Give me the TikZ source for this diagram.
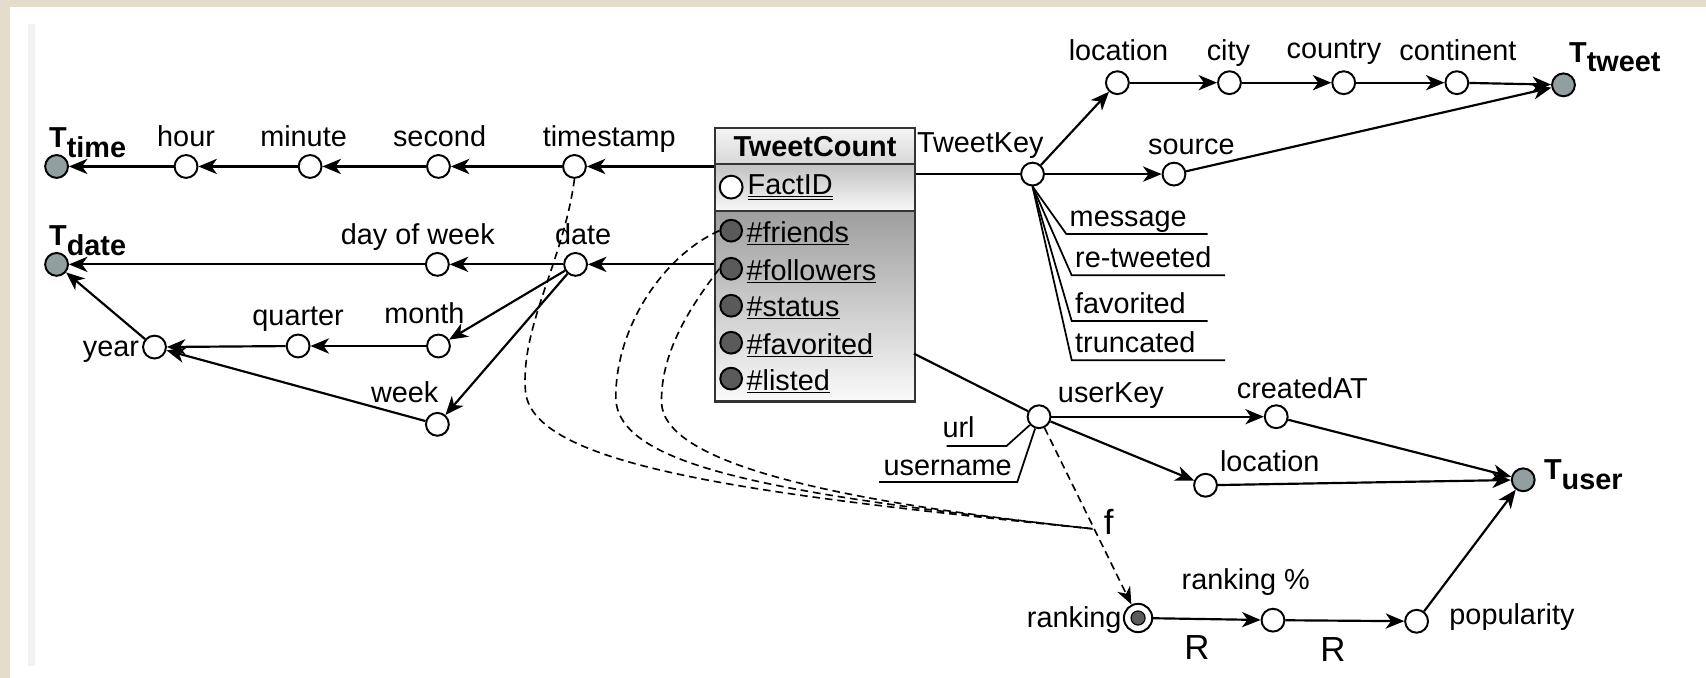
\documentclass[tikz,border=0pt]{standalone}
\usepackage{fontspec}
\setmainfont{Liberation Sans}
\usetikzlibrary{arrows.meta}
\newcommand\lblfont{\fontsize{26.5}{30}\selectfont}
\newcommand\bigfont{\fontsize{32}{36}\selectfont}
\newcommand\tsub[2]{\textbf{#1}\raisebox{-9pt}{\textbf{#2}}}
\definecolor{dimgreyfill}{HTML}{919FA1}
\definecolor{measfill}{HTML}{5A5A5A}
\definecolor{pagebeige}{HTML}{E4DDCB}
\tikzset{
  attr/.style={circle,draw,fill=white,line width=1.8pt,minimum size=21pt,inner sep=0pt},
  dimnode/.style={attr,fill=dimgreyfill},
  measdot/.style={attr,fill=measfill,minimum size=20pt},
  lbl/.style={font=\lblfont,inner sep=0pt},
  conn/.style={line width=2pt},
  arr/.style={conn,-{Stealth[length=17pt,width=14pt,inset=5pt]}},
  dsh/.style={line width=1.5pt,dash pattern=on 7pt off 4.5pt},
  boxrow/.style={draw=black!80,line width=2pt,anchor=north west,minimum width=184pt,inner sep=0pt}
}
\begin{document}
\begin{tikzpicture}[x=1pt,y=-1pt]
\useasboundingbox (0,0) rectangle (1568,623);
% page background
\fill[pagebeige] (0,0) rectangle (1568,623);
\fill[white] (9,6) rectangle (1568,623);
\fill[black!5] (26,22) rectangle (32,612);

% ---------- fact table ----------
\node[boxrow,minimum height=33pt,top color=black!4,bottom color=black!16] (title) at (656,117) {};
\node[lbl,font=\lblfont\bfseries] (titletxt) at (title.center) {TweetCount};
\node[boxrow,minimum height=43pt,top color=black!24,bottom color=black!3] (fid) at (656,150) {};
\node[boxrow,minimum height=175pt,top color=black!38,bottom color=black!2] (meas) at (656,193) {};

\node[attr] (factid) at (672,172) {};
\node[lbl,anchor=west] (factidtxt) at (687,172) {\underline{\underline{FactID}}};
\node[measdot] (fr) at (672,212) {};
\node[lbl,anchor=west] (frtxt) at (686,214) {\underline{\#friends}};
\node[measdot] (fo) at (672,247) {};
\node[lbl,anchor=west] (fotxt) at (686,249) {\underline{\#followers}};
\node[measdot] (st) at (672,281) {};
\node[lbl,anchor=west] (sttxt) at (686,283) {\underline{\#status}};
\node[measdot] (fv) at (672,315) {};
\node[lbl,anchor=west] (fvtxt) at (686,317) {\underline{\#favorited}};
\node[measdot] (ls) at (672,348) {};
\node[lbl,anchor=west] (lstxt) at (686,350) {\underline{\#listed}};

% ---------- time hierarchy ----------
\node[dimnode] (ttime) at (52,153) {};
\node[lbl,anchor=base west] (ttimetxt) at (45,136) {\tsub{T}{time}};
\node[attr] (hour) at (171,153) {};
\node[lbl,anchor=base] (hourtxt) at (171,135) {hour};
\node[attr] (minute) at (285,153) {};
\node[lbl,anchor=base] (minutetxt) at (279,135) {minute};
\node[attr] (second) at (403,153) {};
\node[lbl,anchor=base] (secondtxt) at (404,135) {second};
\node[attr] (ts) at (528,153) {};
\node[lbl,anchor=base] (tstxt) at (560,135) {timestamp};

% ---------- date hierarchy ----------
\node[dimnode] (tdate) at (52,243) {};
\node[lbl,anchor=base west] (tdatetxt) at (45,226) {\tsub{T}{date}};
\node[attr] (dow) at (402,243) {};
\node[lbl,anchor=base] (dowtxt) at (384,225) {day of week};
\node[attr] (date) at (529,243) {};
\node[lbl,anchor=base] (datetxt) at (536,225) {date};
\node[attr] (year) at (142,319) {};
\node[lbl,anchor=base east] (yeartxt) at (128,328) {year};
\node[attr] (quarter) at (274,318) {};
\node[lbl,anchor=base] (quartertxt) at (274,299) {quarter};
\node[attr] (month) at (403,318) {};
\node[lbl,anchor=base] (monthtxt) at (390,297) {month};
\node[attr] (week) at (402,390) {};
\node[lbl,anchor=base] (weektxt) at (372,370) {week};

% ---------- tweet hierarchy ----------
\node[attr] (tk) at (949,160) {};
\node[lbl,anchor=base] (tktxt) at (901,140) {TweetKey};
\node[attr] (loc) at (1027,76) {};
\node[lbl,anchor=base] (loctxt) at (1028,56) {location};
\node[attr] (city) at (1130,76) {};
\node[lbl,anchor=base] (citytxt) at (1129,56) {city};
\node[attr] (country) at (1235,76) {};
\node[lbl,anchor=base] (countrytxt) at (1226,54) {country};
\node[attr] (cont) at (1339,76) {};
\node[lbl,anchor=base] (conttxt) at (1340,56) {continent};
\node[dimnode] (ttweet) at (1437,78) {};
\node[lbl,anchor=base west] (ttweettxt) at (1442,57) {\tsub{T}{tweet}};
\node[attr] (src) at (1079,160) {};
\node[lbl,anchor=base] (srctxt) at (1095,142) {source};

% degenerate attributes of TweetKey
\coordinate (msgL) at (980,215);  \coordinate (msgR) at (1110,215);
\coordinate (rtwL) at (985,253);  \coordinate (rtwR) at (1126,253);
\coordinate (favL) at (985,295);  \coordinate (favR) at (1110,295);
\coordinate (trcL) at (985,331);  \coordinate (trcR) at (1126,331);
\node[lbl,anchor=base west] (msgtxt) at (983,208) {message};
\node[lbl,anchor=base west] (rtwtxt) at (988,246) {re-tweeted};
\node[lbl,anchor=base west] (favtxt) at (988,288) {favorited};
\node[lbl,anchor=base west] (trctxt) at (988,324) {truncated};

% ---------- user hierarchy ----------
\node[attr] (uk) at (955,383) {};
\node[lbl,anchor=base] (uktxt) at (1021,370) {userKey};
\node[attr] (cat) at (1173,383) {};
\node[lbl,anchor=base] (cattxt) at (1197,366) {createdAT};
\node[attr] (uloc) at (1108,446) {};
\node[lbl,anchor=base] (uloctxt) at (1167,433) {location};
\node[dimnode] (tuser) at (1400,441) {};
\node[lbl,anchor=base west] (tusertxt) at (1419,441) {\tsub{T}{user}};
\coordinate (urlL) at (870,410);  \coordinate (urlR) at (925,410);
\coordinate (unL) at (808,443);   \coordinate (unR) at (935,443);
\node[lbl,anchor=base] (urltxt) at (881,402) {url};
\node[lbl,anchor=base] (untxt) at (871,437) {username};

% ranking and popularity
\node[attr,minimum size=26pt] (rk) at (1046,568) {};
\node[circle,fill=measfill,draw,line width=1pt,minimum size=13pt,inner sep=0pt] (rkin) at (rk.center) {};
\node[lbl,anchor=base east] (rktxt) at (1031,577) {ranking};
\node[attr] (rkp) at (1170,570) {};
\node[lbl,anchor=base] (rkptxt) at (1145,542) {ranking \%};
\node[attr] (pop) at (1302,571) {};
\node[lbl,anchor=base west] (poptxt) at (1332,574) {popularity};
\node[lbl,font=\bigfont,anchor=base] (r1) at (1100,606) {R};
\node[lbl,font=\bigfont,anchor=base] (r2) at (1225,608) {R};
\coordinate (fpt) at (1004,486);
\node[lbl,font=\bigfont,anchor=base] (ftxt) at (1019,491) {f};

% ---------- connectors ----------
\draw[arr] (fid.west |- ts) -- (ts);
\draw[arr] (ts) -- (second);
\draw[arr] (second) -- (minute);
\draw[arr] (minute) -- (hour);
\draw[arr] (hour) -- (ttime);

\draw[arr] (meas.west |- date) -- (date);
\draw[arr] (date) -- (dow);
\draw[arr] (dow) -- (tdate);
\draw[arr] (date) -- (month);
\draw[arr] (date) -- (week);
\draw[arr] (month) -- (quarter);
\draw[arr] (quarter) -- (year);
\draw[arr] (week) -- (year);
\draw[arr] (year) -- (tdate);

\draw[conn] (fid.east |- tk) -- (tk);
\draw[arr] (tk) -- (loc);
\draw[arr] (loc) -- (city);
\draw[arr] (city) -- (country);
\draw[arr] (country) -- (cont);
\draw[arr] (cont) -- (ttweet);
\draw[arr] (tk) -- (src);
\draw[arr] (src) -- (ttweet);
\draw[conn,line width=1.6pt] (tk.south) -- (msgL) -- (msgR);
\draw[conn,line width=1.6pt] (tk.south) -- (rtwL) -- (rtwR);
\draw[conn,line width=1.6pt] (tk.south) -- (favL) -- (favR);
\draw[conn,line width=1.6pt] (tk.south) -- (trcL) -- (trcR);

\coordinate (bxu) at (840,325);
\draw[conn] (bxu) -- (uk);
\draw[arr] (uk) -- (cat);
\draw[arr] (uk) -- (uloc);
\draw[arr] (cat) -- (tuser);
\draw[arr] (uloc) -- (tuser);
\draw[conn,line width=1.6pt] (urlL) -- (urlR) -- (uk);
\draw[conn,line width=1.6pt] (unL) -- (unR) -- (uk);

\draw[arr] (rk) -- (rkp);
\draw[arr] (rkp) -- (pop);
\draw[arr] (pop) -- (tuser);

% derivation of ranking from the measures
\draw[dsh,-{Stealth[length=16pt,width=13pt,inset=5pt]}] (uk) -- (rk);
\draw[dsh] (ts.south) .. controls (518,240) and (478,300) .. (483,360)
  .. controls (490,430) and (700,455) .. (fpt);
\draw[dsh] (fr.west) .. controls (610,235) and (566,300) .. (566,365)
  .. controls (566,430) and (720,455) .. (fpt);
\draw[dsh] (fo.west) .. controls (640,275) and (607,320) .. (608,370)
  .. controls (610,425) and (760,460) .. (fpt);
\end{tikzpicture}
\end{document}
